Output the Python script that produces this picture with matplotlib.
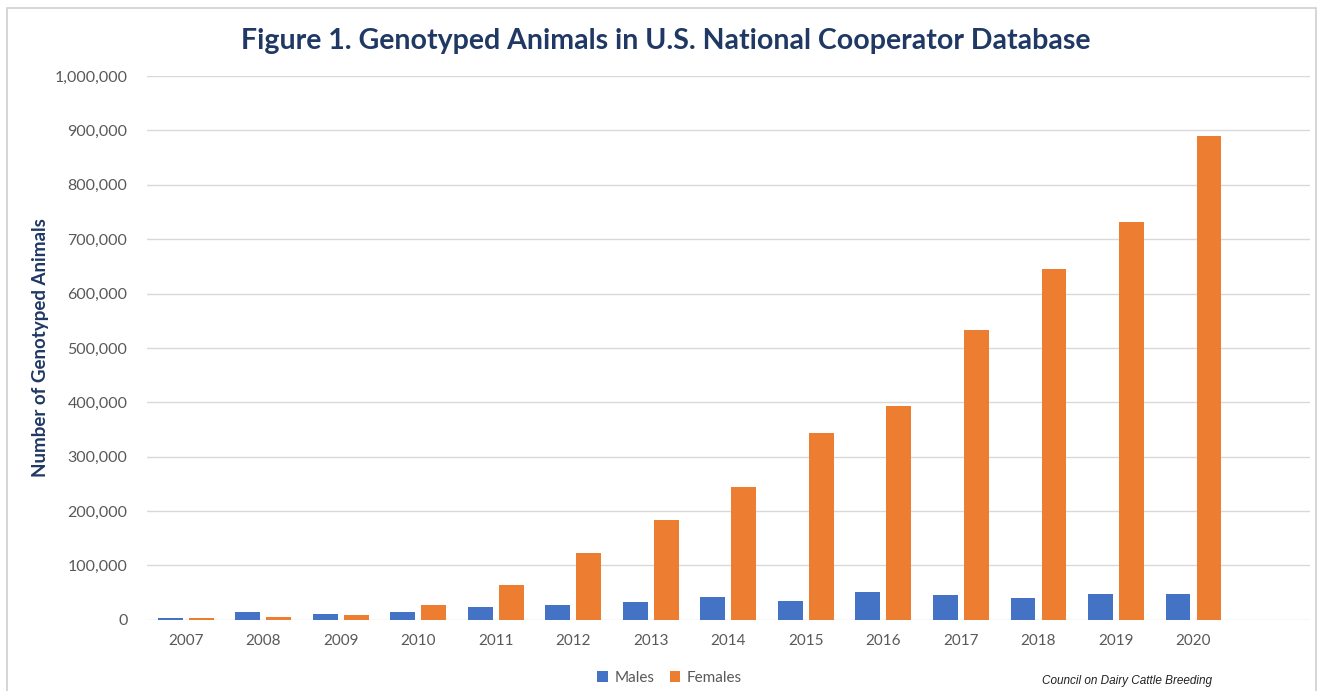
import matplotlib
matplotlib.use("Agg")
import matplotlib.pyplot as plt
import numpy as np
from matplotlib.patches import Rectangle
from matplotlib.ticker import FuncFormatter

# dados
anos = ['2007', '2008', '2009', '2010', '2011', '2012', '2013',
        '2014', '2015', '2016', '2017', '2018', '2019', '2020']
machos = [3000, 14000, 11000, 14000, 23000, 27500, 33500,
          41700, 35500, 52000, 46500, 40000, 48400, 48400]
femeas = [3000, 5500, 9200, 27600, 64300, 123700, 183000,
          244000, 344000, 393000, 533000, 645000, 731000, 890000]

azul = '#4472C4'
laranja = '#ED7D31'
navy = '#1F3864'
cinza = '#595959'

plt.rcParams['font.family'] = ['Lato', 'DejaVu Sans']

fig = plt.figure(figsize=(13.23, 6.91), dpi=100)
ax = fig.add_axes([0.111, 0.103, 0.879, 0.787])

# moldura clara em volta do gráfico
fig.patches.append(Rectangle((0.005, -0.01), 0.99, 0.998, transform=fig.transFigure,
                             fill=False, edgecolor='#D0D0D0', linewidth=1.2))

x = np.arange(len(anos))
larg = 0.32
ax.bar(x - 0.2, machos, larg, color=azul, label='Males')
ax.bar(x + 0.2, femeas, larg, color=laranja, label='Females')

ax.set_xlim(-0.5, 14.5)
ax.set_ylim(0, 1000000)
ax.set_xticks(x)
ax.set_xticklabels(anos)
ax.set_yticks(np.arange(0, 1000001, 100000))
ax.yaxis.set_major_formatter(FuncFormatter(lambda v, p: f'{int(v):,}'))
ax.tick_params(axis='x', length=0, labelsize=11, labelcolor=cinza, pad=10)
ax.tick_params(axis='y', length=0, labelsize=11.5, labelcolor=cinza, pad=14)

ax.grid(axis='y', color='#D9D9D9', linewidth=1)
ax.set_axisbelow(True)
for s in ax.spines.values():
    s.set_visible(False)

ax.set_ylabel('Number of Genotyped Animals', fontsize=13.5, fontweight='bold',
              color=navy, labelpad=4)
fig.text(0.503, 0.940, 'Figure 1. Genotyped Animals in U.S. National Cooperator Database',
         ha='center', va='center', fontsize=20.5, fontweight='bold', color=navy)

fig.legend(loc='center', bbox_to_anchor=(0.506, 0.019), ncol=2, frameon=False,
           fontsize=11, handlelength=0.7, handleheight=0.7, handletextpad=0.4,
           columnspacing=1.0, labelcolor=cinza)

fig.text(0.916, 0.015, 'Council on Dairy Cattle Breeding', ha='right', va='center',
         fontsize=8.5, style='italic', color='#222222', family=['Liberation Sans'])

fig.savefig('out.png', dpi=100)
